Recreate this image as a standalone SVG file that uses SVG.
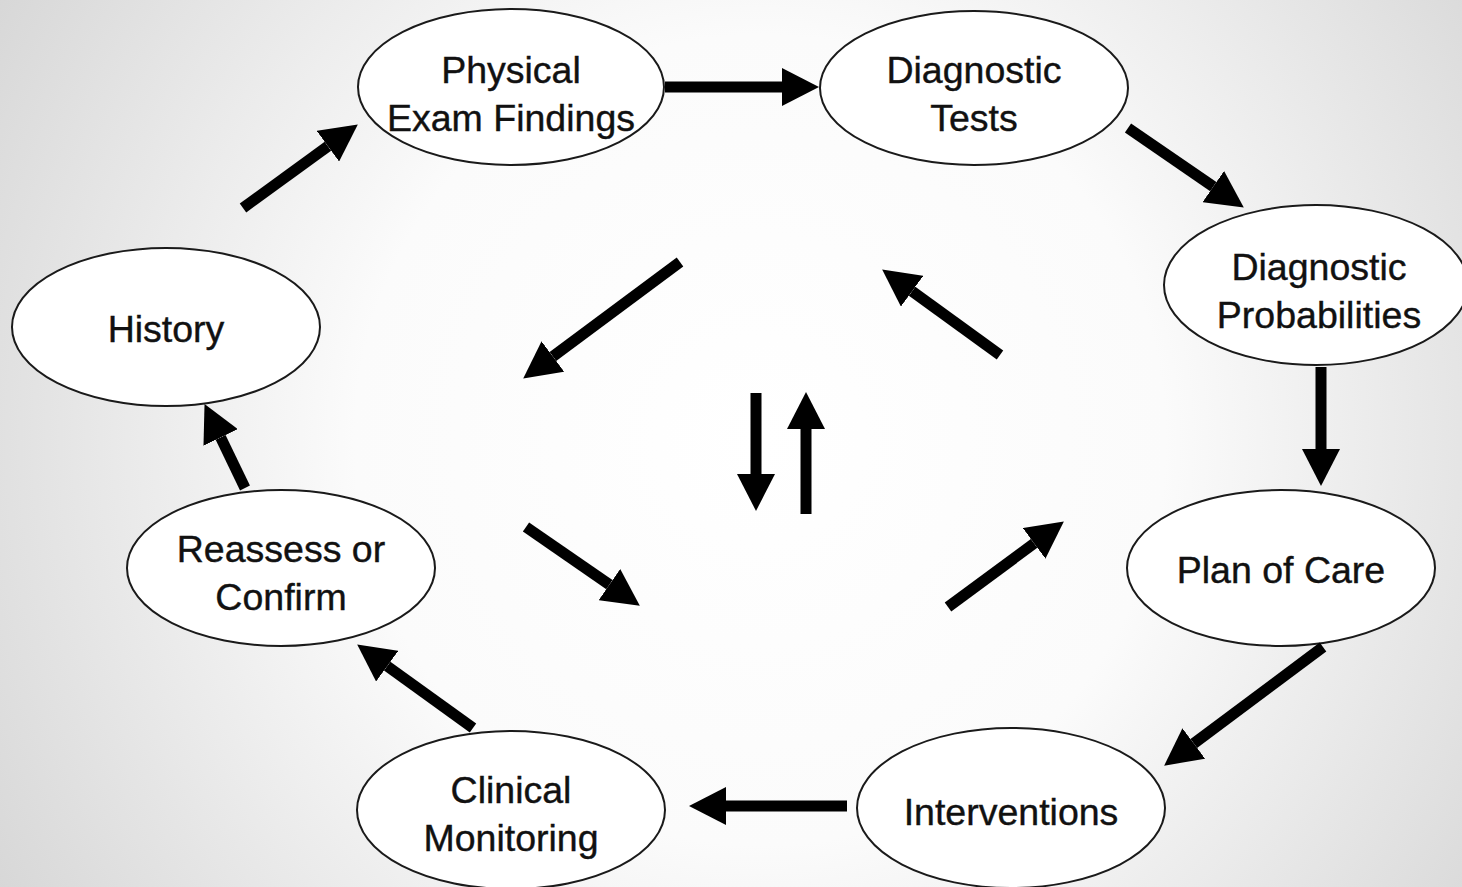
<svg xmlns="http://www.w3.org/2000/svg" width="1462" height="887" viewBox="0 0 1462 887">
<defs>
<radialGradient id="bg" cx="760" cy="440" r="900" gradientUnits="userSpaceOnUse">
<stop offset="0" stop-color="#ffffff"/>
<stop offset="0.45" stop-color="#fbfbfb"/>
<stop offset="1" stop-color="#d6d6d6"/>
</radialGradient>
<marker id="ah" markerUnits="userSpaceOnUse" markerWidth="37" markerHeight="38" viewBox="0 0 37 38" refX="0" refY="19" orient="auto">
<path d="M0,0 L37,19 L0,38 z" fill="#000"/>
</marker>
</defs>
<style>
.node ellipse{fill:#fff;stroke:#1a1a1a;stroke-width:2}
.node text{font-family:"Liberation Sans",Arial,sans-serif;font-size:37.5px;fill:#111;text-anchor:middle;stroke:#111;stroke-width:0.4}
.conn line{stroke:#000;stroke-width:11;marker-end:url(#ah)}
</style>
<rect width="1462" height="887" fill="url(#bg)"/>
<g id="n-physical" class="node"><ellipse cx="511" cy="87" rx="153" ry="78"/><text x="511" y="83">Physical</text><text x="511" y="131">Exam Findings</text></g>
<g id="n-tests" class="node"><ellipse cx="974" cy="88" rx="154" ry="77"/><text x="974" y="83">Diagnostic</text><text x="974" y="131">Tests</text></g>
<g id="n-prob" class="node"><ellipse cx="1316" cy="285" rx="152" ry="80"/><text x="1319" y="280">Diagnostic</text><text x="1319" y="328">Probabilities</text></g>
<g id="n-history" class="node"><ellipse cx="166" cy="327" rx="154" ry="79"/><text x="166" y="342">History</text></g>
<g id="n-reassess" class="node"><ellipse cx="281" cy="568" rx="154" ry="78"/><text x="281" y="562">Reassess or</text><text x="281" y="610">Confirm</text></g>
<g id="n-plan" class="node"><ellipse cx="1281" cy="568" rx="154" ry="78"/><text x="1281" y="583">Plan of Care</text></g>
<g id="n-clinical" class="node"><ellipse cx="511" cy="810" rx="154" ry="79"/><text x="511" y="803">Clinical</text><text x="511" y="851">Monitoring</text></g>
<g id="n-interventions" class="node"><ellipse cx="1011" cy="808" rx="154" ry="80"/><text x="1011" y="825">Interventions</text></g>
<g id="connectors" class="conn">
<line x1="243" y1="208" x2="327.9" y2="146.2"/>
<line x1="665" y1="87" x2="782" y2="87"/>
<line x1="1128" y1="128" x2="1213.3" y2="186.6"/>
<line x1="1321" y1="367" x2="1321" y2="449"/>
<line x1="1323" y1="647" x2="1193.8" y2="743.5"/>
<line x1="847" y1="806" x2="726" y2="806"/>
<line x1="473" y1="728" x2="387.2" y2="666.1"/>
<line x1="245" y1="488" x2="220.6" y2="437.4"/>
<line x1="680" y1="262" x2="552.9" y2="356.5"/>
<line x1="1000" y1="355" x2="912.1" y2="291.2"/>
<line x1="526" y1="527" x2="609.4" y2="584.6"/>
<line x1="948" y1="607" x2="1034.1" y2="543.4"/>
<line x1="756" y1="393" x2="756" y2="474"/>
<line x1="806" y1="514" x2="806" y2="429"/>
</g>
</svg>
